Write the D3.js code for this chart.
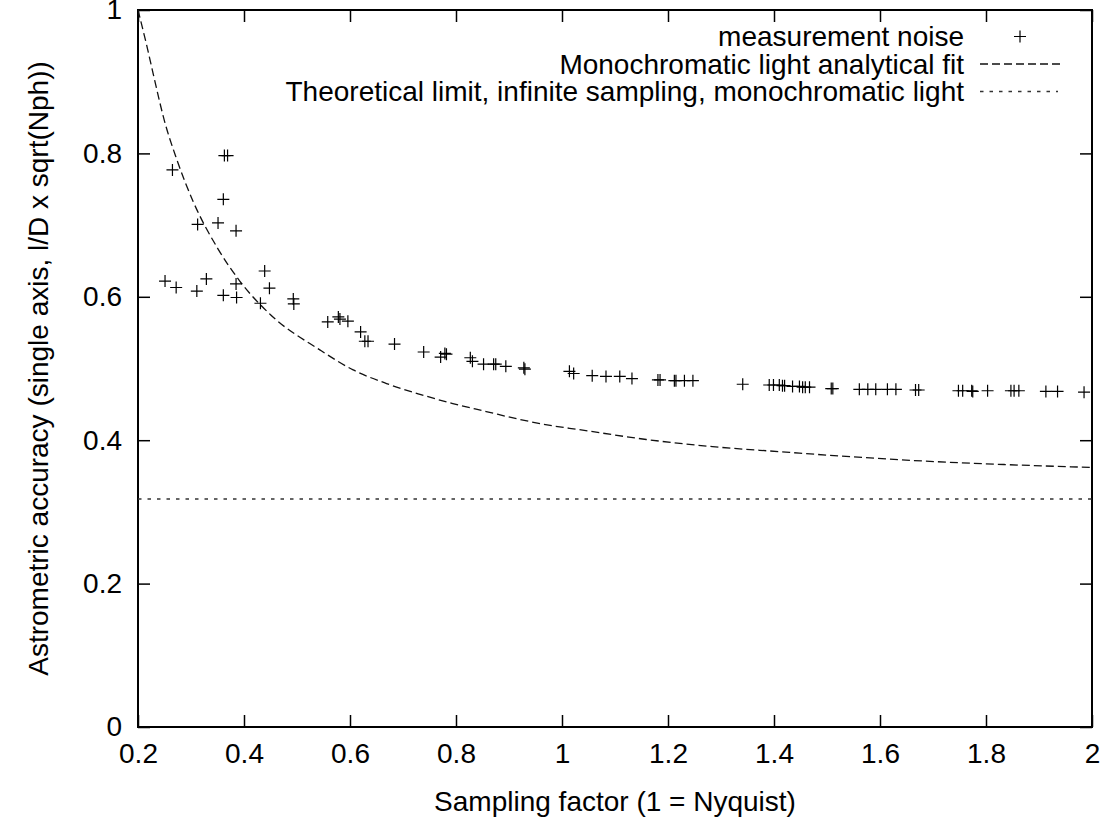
<!DOCTYPE html>
<html>
<head>
<meta charset="utf-8">
<script src="https://cdn.jsdelivr.net/npm/d3@7"></script>
<style>
  body { margin: 0; background: #fff; }
  text { font-family: "Liberation Sans", Arial, Helvetica, sans-serif; }
</style>
</head>
<body>
<script>
var noiseX = [0.265, 0.363, 0.369, 0.361, 0.3125, 0.351, 0.385, 0.251, 0.272, 0.311,
              0.329, 0.361, 0.385, 0.386, 0.431, 0.439, 0.448, 0.493, 0.494, 0.558,
              0.578, 0.581, 0.596, 0.620, 0.628, 0.634, 0.684, 0.739, 0.771, 0.779,
              0.782, 0.827, 0.831, 0.852, 0.871, 0.875, 0.894, 0.928, 0.930, 1.014,
              1.022, 1.057, 1.083, 1.109, 1.132, 1.181, 1.185, 1.212, 1.215, 1.231,
              1.247, 1.341, 1.391, 1.399, 1.410, 1.416, 1.420, 1.435, 1.448, 1.454,
              1.459, 1.467, 1.508, 1.511, 1.561, 1.577, 1.592, 1.614, 1.630, 1.667,
              1.673, 1.748, 1.756, 1.773, 1.775, 1.803, 1.847, 1.853, 1.862, 1.913,
              1.935, 1.985];
var noiseY = [0.777, 0.797, 0.797, 0.736, 0.701, 0.703, 0.692, 0.622, 0.613, 0.608,
              0.625, 0.602, 0.618, 0.599, 0.591, 0.636, 0.612, 0.597, 0.590, 0.565,
              0.572, 0.569, 0.566, 0.551, 0.538, 0.538, 0.534, 0.523, 0.516, 0.521,
              0.520, 0.515, 0.510, 0.506, 0.506, 0.506, 0.503, 0.501, 0.499, 0.496,
              0.493, 0.490, 0.489, 0.489, 0.486, 0.484, 0.484, 0.483, 0.483, 0.483,
              0.483, 0.478, 0.477, 0.477, 0.477, 0.476, 0.476, 0.475, 0.475, 0.474,
              0.474, 0.474, 0.472, 0.472, 0.471, 0.471, 0.471, 0.471, 0.471, 0.470,
              0.470, 0.469, 0.469, 0.469, 0.468, 0.469, 0.469, 0.469, 0.469, 0.468,
              0.468, 0.467];
// analytical fit curve, read at a set of x positions
var fitX = [0.2, 0.216, 0.229, 0.25, 0.273, 0.304, 0.35, 0.392, 0.45, 0.543, 0.606, 0.669,
            0.732, 0.794, 0.857, 0.92, 0.983, 1.03, 1.159, 1.284, 1.41, 1.523, 1.68, 1.837, 2.0];
var fitY = [1.0, 0.952, 0.91, 0.845, 0.792, 0.733, 0.668, 0.622, 0.575, 0.526, 0.498, 0.479,
            0.464, 0.451, 0.440, 0.429, 0.420, 0.415, 0.401, 0.391, 0.384, 0.378, 0.371, 0.366, 0.362];
// theoretical limit (horizontal line)
var limitY = 0.318;

var xTicks = [0.2, 0.4, 0.6, 0.8, 1, 1.2, 1.4, 1.6, 1.8, 2];
var yTicks = [0, 0.2, 0.4, 0.6, 0.8, 1];
var legendLabels = ["measurement noise", "Monochromatic light analytical fit",
                    "Theoretical limit, infinite sampling, monochromatic light"];

var w = 1109;
var h = 819;
//plot box (note: "top" is a reserved window property, so use other names)
var plotL = 138, plotR = 1092, plotT = 10, plotB = 727;
var fontSize = 28;

var xScale = d3.scaleLinear().domain([0.2, 2]).range([plotL, plotR]);
var yScale = d3.scaleLinear().domain([0, 1]).range([plotB, plotT]);

var svg = d3.select("body")
    .append("svg")
    .attr("width", w)
    .attr("height", h);

svg.append("defs").append("clipPath").attr("id", "plotclip")
    .append("rect")
    .attr("x", plotL).attr("y", plotT)
    .attr("width", plotR - plotL).attr("height", plotB - plotT);

//axes, ticks point inward on all four sides
function styleAxis(g) {
    g.select(".domain").remove();
    g.selectAll(".tick line").attr("stroke", "#000").attr("stroke-width", 1.5);
    g.selectAll("text")
        .attr("fill", "#000")
        .attr("font-size", fontSize)
        .attr("font-family", "Liberation Sans, Arial, sans-serif");
}
var fmt = d3.format("~g");

svg.append("g")
    .attr("transform", "translate(0," + plotB + ")")
    .call(d3.axisBottom(xScale).tickValues(xTicks).tickSize(-12).tickPadding(16).tickFormat(fmt))
    .call(styleAxis);
svg.append("g")
    .attr("transform", "translate(0," + plotT + ")")
    .call(d3.axisTop(xScale).tickValues(xTicks).tickSize(-12).tickFormat(""))
    .call(styleAxis);
svg.append("g")
    .attr("transform", "translate(" + plotL + ",0)")
    .call(d3.axisLeft(yScale).tickValues(yTicks).tickSize(-12).tickPadding(16).tickFormat(fmt))
    .call(styleAxis);
svg.append("g")
    .attr("transform", "translate(" + plotR + ",0)")
    .call(d3.axisRight(yScale).tickValues(yTicks).tickSize(-12).tickFormat(""))
    .call(styleAxis);

//frame
svg.append("rect")
    .attr("x", plotL).attr("y", plotT)
    .attr("width", plotR - plotL).attr("height", plotB - plotT)
    .attr("fill", "none")
    .attr("stroke", "#000")
    .attr("stroke-width", 2);

var plot = svg.append("g").attr("clip-path", "url(#plotclip)");

//theoretical limit
plot.append("line")
    .attr("x1", xScale(0.2)).attr("x2", xScale(2))
    .attr("y1", yScale(limitY)).attr("y2", yScale(limitY))
    .attr("stroke", "#333")
    .attr("stroke-width", 1.3)
    .attr("stroke-dasharray", "3.5,6");

//fit curve
var fitLine = d3.line()
    .x(function(d, i) { return xScale(fitX[i]); })
    .y(function(d, i) { return yScale(fitY[i]); })
    .curve(d3.curveMonotoneX);
plot.append("path")
    .attr("d", fitLine(fitX))
    .attr("fill", "none")
    .attr("stroke", "#111")
    .attr("stroke-width", 1.3)
    .attr("stroke-dasharray", "8,4");

//noise points as plus signs
var plus = "M-6,0H6M0,-6V6";
plot.selectAll("path.pt")
    .data(noiseX)
    .enter()
    .append("path")
    .attr("class", "pt")
    .attr("d", plus)
    .attr("transform", function(d, i) {
        return "translate(" + xScale(d) + "," + yScale(noiseY[i]) + ")";
    })
    .attr("fill", "none")
    .attr("stroke", "#000")
    .attr("stroke-width", 1.2);

//legend
var legendRows = [36.5, 64, 91.5];
var legend = svg.append("g");
legend.selectAll("text")
    .data(legendLabels)
    .enter()
    .append("text")
    .text(function(d) { return d; })
    .attr("x", 964)
    .attr("y", function(d, i) { return legendRows[i]; })
    .attr("dy", "0.35em")
    .attr("text-anchor", "end")
    .attr("font-size", fontSize)
    .attr("fill", "#000");
legend.append("path")
    .attr("d", plus)
    .attr("transform", "translate(1020," + legendRows[0] + ")")
    .attr("stroke", "#000")
    .attr("stroke-width", 1.2);
legend.append("line")
    .attr("x1", 980).attr("x2", 1060)
    .attr("y1", legendRows[1]).attr("y2", legendRows[1])
    .attr("stroke", "#111").attr("stroke-width", 1.3)
    .attr("stroke-dasharray", "8,4");
legend.append("line")
    .attr("x1", 980).attr("x2", 1058)
    .attr("y1", legendRows[2]).attr("y2", legendRows[2])
    .attr("stroke", "#333").attr("stroke-width", 1.3)
    .attr("stroke-dasharray", "3.5,6");

//axis titles
svg.append("text")
    .text("Sampling factor (1 = Nyquist)")
    .attr("x", (plotL + plotR) / 2)
    .attr("y", 811)
    .attr("text-anchor", "middle")
    .attr("font-size", fontSize)
    .attr("fill", "#000");
svg.append("text")
    .text("Astrometric accuracy (single axis, l/D x sqrt(Nph))")
    .attr("transform", "translate(48," + (plotT + plotB) / 2 + ") rotate(-90)")
    .attr("text-anchor", "middle")
    .attr("font-size", fontSize)
    .attr("fill", "#000");
</script>
</body>
</html>
